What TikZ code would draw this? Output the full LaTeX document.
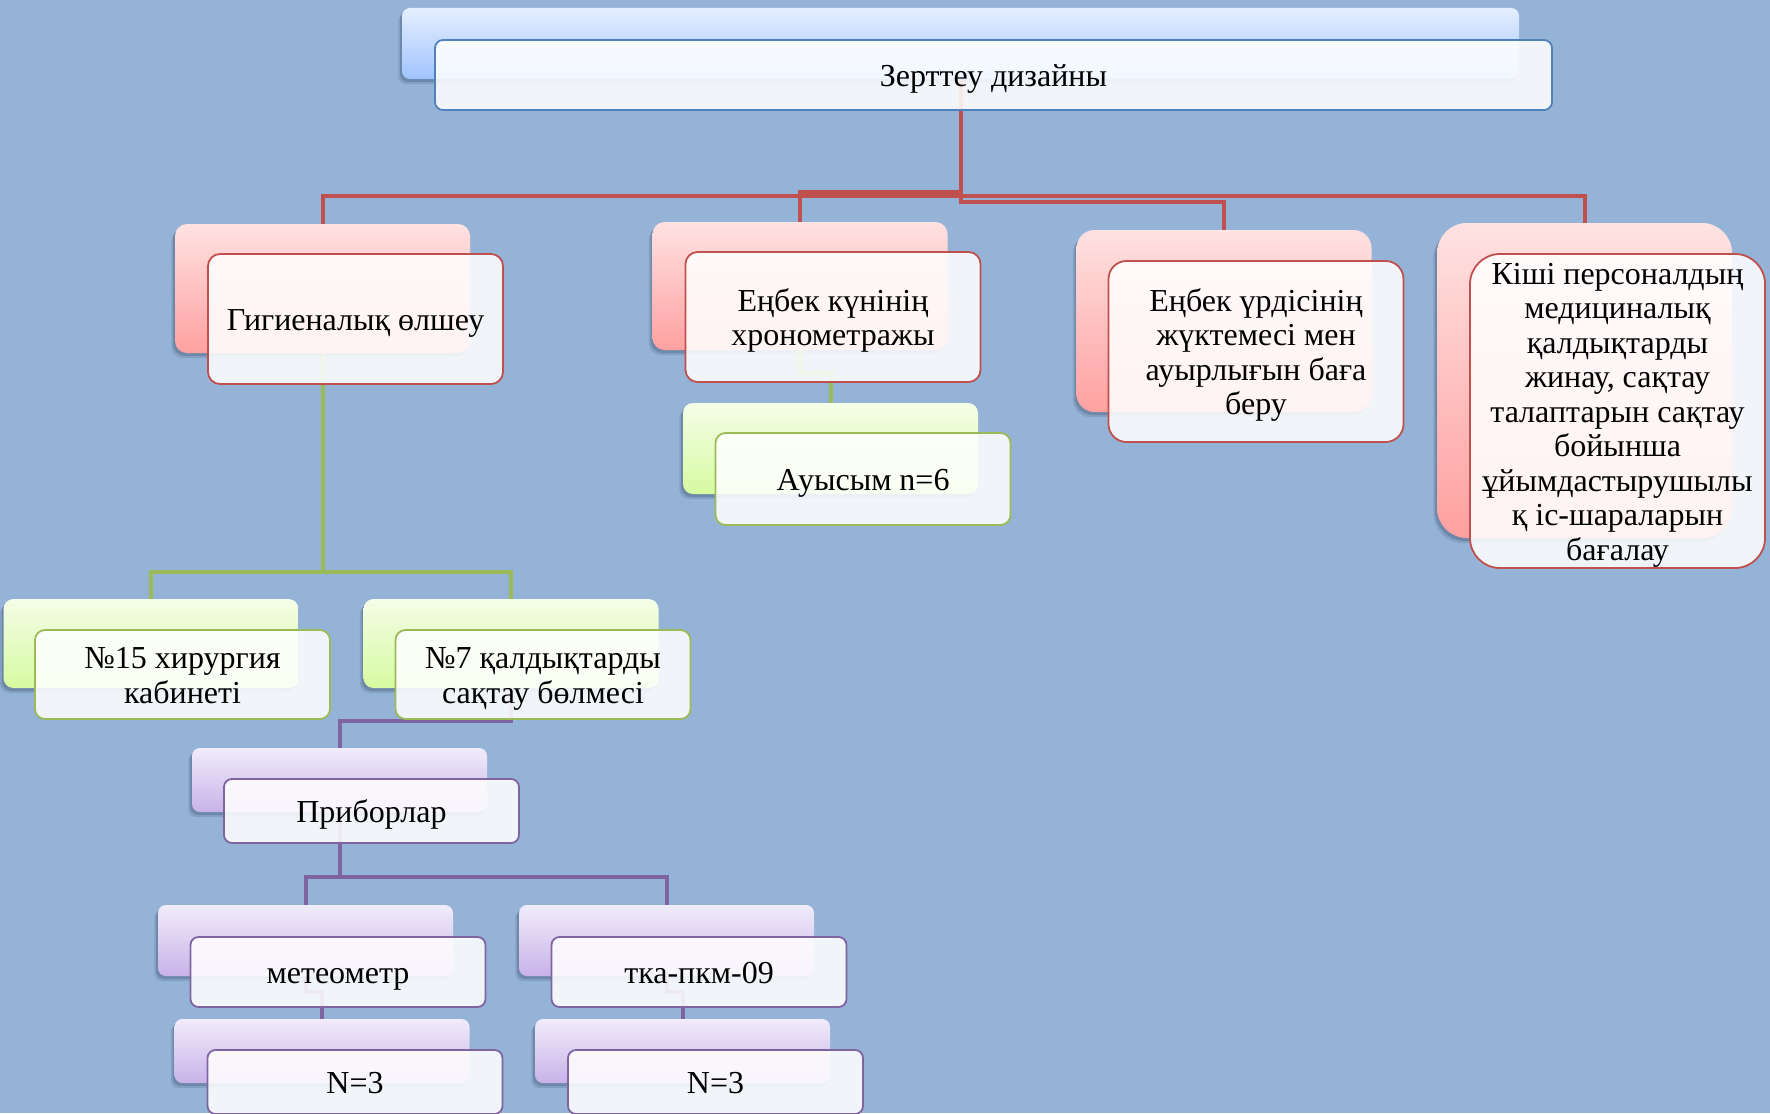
\documentclass[tikz,border=0pt]{standalone}
\usepackage{fontspec}
\setmainfont{Liberation Serif}
\usetikzlibrary{shadows}
\definecolor{bgc}{RGB}{149,179,215}
\definecolor{cred}{RGB}{192,80,77}
\definecolor{cgreen}{RGB}{155,187,89}
\definecolor{cpurple}{RGB}{128,100,162}
\definecolor{cblue}{RGB}{79,129,189}
\definecolor{redtop}{RGB}{255,226,226}
\definecolor{redbot}{RGB}{255,160,160}
\definecolor{greentop}{RGB}{245,253,232}
\definecolor{greenbot}{RGB}{214,250,160}
\definecolor{purtop}{RGB}{241,236,251}
\definecolor{purbot}{RGB}{200,178,232}
\definecolor{bluetop}{RGB}{230,239,255}
\definecolor{bluebot}{RGB}{160,195,255}
\definecolor{shadowc}{RGB}{60,80,110}
\newcommand\mytopstrut{\rule{0pt}{16.6pt}}
\tikzset{
  backbox/.style={rectangle, rounded corners=6pt, minimum width=147.5pt, inner sep=0pt,
    general shadow={fill=shadowc, opacity=0.18, shadow xshift=-1.8pt, shadow yshift=-2.6pt},
    general shadow={fill=shadowc, opacity=0.3, shadow xshift=-1pt, shadow yshift=-1.5pt}},
  backred/.style={backbox, top color=redtop, bottom color=redbot},
  backgreen/.style={backbox, top color=greentop, bottom color=greenbot},
  backpurple/.style={backbox, top color=purtop, bottom color=purbot},
  backblue/.style={backbox, top color=bluetop, bottom color=bluebot},
  frontbox/.style={rectangle, rounded corners=6pt, minimum width=147.5pt, inner sep=0pt,
    fill=white, fill opacity=0.87, text opacity=1, line width=0.9pt, align=center,
    font=\fontsize{16}{17.25}\selectfont},
  oneline/.style={execute at begin node=\mytopstrut, execute at end node=\strut},
  frontred/.style={frontbox, draw=cred},
  frontgreen/.style={frontbox, draw=cgreen},
  frontpurple/.style={frontbox, draw=cpurple},
  frontblue/.style={frontbox, draw=cblue},
  conred/.style={draw=cred, line width=2pt},
  congreen/.style={draw=cgreen, line width=2pt},
  conpurple/.style={draw=cpurple, line width=2pt},
}
\begin{document}
\begin{tikzpicture}[x=0.5pt,y=-0.5pt]
\path[use as bounding box] (0,0) rectangle (1770,1113);
\clip (0,0) rectangle (1770,1113);
\fill[bgc] (0,0) rectangle (1770,1113);

% helper coordinates for connector levels
\coordinate (h196) at (0,196);
\coordinate (h192) at (0,192);
\coordinate (h202) at (0,202);
\coordinate (h572) at (0,572);
\coordinate (h373) at (0,373);
\coordinate (h721) at (0,721);
\coordinate (h877) at (0,877);
\coordinate (h992) at (0,992);

% ---------- back boxes ----------
\node[backblue, minimum width=558.5pt, minimum height=35.5pt, rounded corners=4pt] (rootb) at (960.5,43.5) {};
\node[backred, minimum height=64.5pt] (n1b) at (322.5,288.5) {};
\node[backred, minimum height=64pt] (n2b) at (800,286) {};
\node[backred, minimum height=91pt, rounded corners=9pt] (n3b) at (1224,321) {};
\node[backred, minimum height=157.5pt, rounded corners=15pt] (n4b) at (1584.5,380.5) {};
\node[backgreen, minimum height=45.5pt, rounded corners=5pt] (ab) at (830.5,448.5) {};
\node[backgreen, minimum height=44.5pt, rounded corners=5pt] (g1b) at (151,643.5) {};
\node[backgreen, minimum height=44.5pt, rounded corners=5pt] (g2b) at (511,643.5) {};
\node[backpurple, minimum height=32pt, rounded corners=4pt] (pb) at (339.5,780) {};
\node[backpurple, minimum height=35.5pt, rounded corners=4pt] (mb) at (305.5,940.5) {};
\node[backpurple, minimum height=35.5pt, rounded corners=4pt] (tb) at (666.5,940.5) {};
\node[backpurple, minimum height=32pt, rounded corners=4pt] (nb1) at (322,1051) {};
\node[backpurple, minimum height=32pt, rounded corners=4pt] (nb2) at (682.5,1051) {};

% ---------- connectors ----------
\draw[conred] (rootb.south) -- (rootb.south |- h196) -| (n1b.north);
\draw[conred] (rootb.south) -- (rootb.south |- h196) -| (n4b.north);
\draw[conred] (rootb.south) -- (rootb.south |- h192) -| (n2b.north);
\draw[conred] (rootb.south) -- (rootb.south |- h202) -| (n3b.north);
\draw[congreen] (n1b.south) -- (n1b.south |- h572) -| (g1b.north);
\draw[congreen] (n1b.south) -- (n1b.south |- h572) -| (g2b.north);
\draw[congreen] (n2b.south) -- (n2b.south |- h373) -| (ab.north);
\draw[conpurple] (g2b.south) -- (g2b.south |- h721) -| (pb.north);
\draw[conpurple] (pb.south) -- (pb.south |- h877) -| (mb.north);
\draw[conpurple] (pb.south) -- (pb.south |- h877) -| (tb.north);
\draw[conpurple] (mb.south) -- (mb.south |- h992) -| (nb1.north);
\draw[conpurple] (tb.south) -- (tb.south |- h992) -| (nb2.north);

% ---------- front boxes ----------
\node[frontblue, oneline, minimum width=558.5pt, minimum height=35pt, rounded corners=4pt] (root) at (993.5,75) {Зерттеу дизайны};
\node[frontred, oneline, minimum height=65pt] (n1) at (355.5,319) {Гигиеналық өлшеу};
\node[frontred, minimum height=65pt] (n2) at (833,317) {\mytopstrut Еңбек күнінің\\хронометражы\strut};
\node[frontred, minimum height=90.5pt, rounded corners=9pt] (n3) at (1256,351.5) {\mytopstrut Еңбек үрдісінің\\жүктемесі мен\\ауырлығын баға\\беру\strut};
\node[frontred, minimum height=157pt, rounded corners=15pt] (n4) at (1617.5,411) {\rule{0pt}{14.9pt}Кіші персоналдың\\медициналық\\қалдықтарды\\жинау, сақтау\\талаптарын сақтау\\бойынша\\ұйымдастырушылы\\қ іс-шараларын\\бағалау};
\node[frontgreen, oneline, minimum height=46pt, rounded corners=5pt] (a) at (863,479) {Ауысым n=6};
\node[frontgreen, minimum height=44.5pt, rounded corners=5pt] (g1) at (182.5,674.5) {\mytopstrut №15 хирургия\\кабинеті\strut};
\node[frontgreen, minimum height=44.5pt, rounded corners=5pt] (g2) at (543,674.5) {\mytopstrut №7 қалдықтарды\\сақтау бөлмесі\strut};
\node[frontpurple, oneline, minimum height=32pt, rounded corners=4pt] (p) at (371.5,811) {Приборлар};
\node[frontpurple, oneline, minimum height=35pt, rounded corners=4pt] (m) at (338,972) {метеометр};
\node[frontpurple, oneline, minimum height=35pt, rounded corners=4pt] (t) at (699,972) {тка-пкм-09};
\node[frontpurple, oneline, minimum height=32pt, rounded corners=4pt] (nf1) at (355,1082) {N=3};
\node[frontpurple, oneline, minimum height=32pt, rounded corners=4pt] (nf2) at (715.5,1082) {N=3};
\end{tikzpicture}
\end{document}
